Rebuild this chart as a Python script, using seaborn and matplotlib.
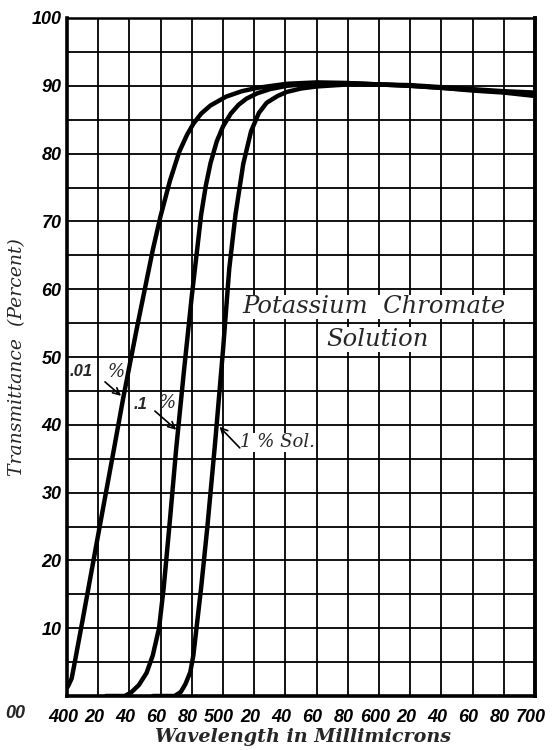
import matplotlib
matplotlib.use("Agg")
import matplotlib.pyplot as plt
import matplotlib.transforms as mtransforms
import seaborn as sns
import pandas as pd

# ---------------- data ----------------
wl_001 = [400, 401, 403, 405, 410, 420, 430, 436, 445, 455, 460, 466, 472,
          477, 481, 486, 492, 502, 512, 522, 541, 560, 580, 600, 620, 640,
          660, 680, 700]
tr_001 = [1.2, 1.6, 2.6, 5.0, 11.2, 23.8, 36.3, 43.9, 54.5, 65.8, 70.8, 76.0,
          80.3, 82.8, 84.4, 85.9, 87.1, 88.4, 89.2, 89.7, 90.3, 90.5, 90.4,
          90.2, 90.0, 89.7, 89.3, 89.0, 88.5]

wl_01 = [425, 437, 441, 446, 451, 455, 459, 462, 466, 470, 475, 480, 483, 486,
         489, 492, 496, 500, 505, 510, 515, 522, 530, 541, 560, 580, 600, 620,
         640, 660, 680, 700]
tr_01 = [0.0, 0.0, 0.5, 1.6, 3.4, 6.0, 10.0, 16.0, 26.0, 36.5, 48.0, 59.0,
         65.0, 71.0, 75.3, 78.6, 81.8, 84.0, 85.9, 87.2, 88.1, 88.9, 89.5,
         90.0, 90.4, 90.4, 90.2, 90.0, 89.7, 89.4, 89.1, 88.8]

wl_1 = [455, 469, 473, 476, 479, 481, 483, 486, 490, 495, 500, 504, 508, 513,
        518, 523, 528, 535, 541, 550, 560, 580, 600, 620, 640, 660, 680, 700]
tr_1 = [0.0, 0.0, 0.6, 1.8, 3.5, 6.0, 10.0, 16.0, 25.0, 37.5, 51.0, 63.0,
        71.0, 78.5, 83.3, 86.0, 87.5, 88.5, 89.1, 89.6, 89.9, 90.2, 90.2,
        90.1, 89.8, 89.5, 89.2, 89.0]

series_names = [".01 %", ".1 %", "1 % Sol."]

x_ticks = list(range(400, 701, 20))
x_ticklabels = ["400", "20", "40", "60", "80", "500", "20", "40", "60", "80",
                "600", "20", "40", "60", "80", "700"]
y_ticks = list(range(10, 101, 10))
y_ticklabels = ["10", "20", "30", "40", "50", "60", "70", "80", "90", "100"]

# ---------------- figure ----------------
sns.set_theme(style="white")
plt.rcParams["font.family"] = ["DejaVu Serif", "DejaVu Sans"]

fig = plt.figure(figsize=(5.56, 7.5), dpi=100)
ax = fig.add_axes([67 / 556, 1 - 696 / 750, 468 / 556, 678 / 750])

df = pd.concat([
    pd.DataFrame({"wl": wl_001, "T": tr_001, "conc": series_names[0]}),
    pd.DataFrame({"wl": wl_01, "T": tr_01, "conc": series_names[1]}),
    pd.DataFrame({"wl": wl_1, "T": tr_1, "conc": series_names[2]}),
])
for name in series_names:
    sns.lineplot(data=df[df["conc"] == name], x="wl", y="T", ax=ax,
                 color="black", linewidth=3.2, sort=False, estimator=None,
                 legend=False, zorder=5)

ax.set_xlim(400, 700)
ax.set_ylim(0, 100)
ax.grid(which="both", color="black", linewidth=1.3)
ax.tick_params(which="both", length=0)
ax.tick_params(axis="x", pad=9)
ax.tick_params(axis="y", pad=4)

tick_font = dict(family="Liberation Sans", fontstyle="italic",
                 fontweight="bold", fontsize=13, color="black")
ax.set_xticks(x_ticks)
ax.set_xticklabels(x_ticklabels, **tick_font)
ax.set_yticks(y_ticks)
ax.set_yticklabels(y_ticklabels, **tick_font)
ax.set_yticks(list(range(5, 100, 10)), minor=True)

shift = mtransforms.ScaledTranslation(-4 / 100, 0, fig.dpi_scale_trans)
for lab in ax.get_xticklabels():
    lab.set_transform(lab.get_transform() + shift)

for side, lw in (("left", 2.6), ("bottom", 2.6), ("right", 2.8), ("top", 1.8)):
    ax.spines[side].set_visible(True)
    ax.spines[side].set_color("black")
    ax.spines[side].set_linewidth(lw)

ax.set_xlabel("")
ax.set_ylabel("")
fig.text(303 / 556, 1 - 737 / 750, "Wavelength in Millimicrons",
         ha="center", va="center", fontsize=13.8, fontstyle="italic",
         fontweight="bold", family="DejaVu Serif")
fig.text(17 / 556, 1 - 357 / 750, "Transmittance  (Percent)", rotation=90,
         ha="center", va="center", fontsize=13.5, fontstyle="italic",
         family="DejaVu Serif")
fig.text(25 / 556, 1 - 713 / 750, "00", ha="right", va="center",
         fontsize=13, fontstyle="italic", fontweight="bold",
         family="Liberation Sans")

# title text inside plot
ax.text(597, 57.4, "Potassium  Chromate", ha="center", va="center",
        fontsize=17.5, fontstyle="italic", family="DejaVu Serif",
        bbox=dict(facecolor="white", edgecolor="none", pad=0.5), zorder=6)
ax.text(599, 52.6, "Solution", ha="center", va="center",
        fontsize=17.5, fontstyle="italic", family="DejaVu Serif",
        bbox=dict(facecolor="white", edgecolor="none", pad=0.5), zorder=6)

# series annotations
ax.text(402, 47.8, ".01", ha="left", va="center", fontsize=12,
        fontstyle="italic", fontweight="bold", family="Liberation Sans",
        bbox=dict(facecolor="white", edgecolor="none", pad=0.3), zorder=6)
ax.text(426, 47.8, "%", ha="left", va="center", fontsize=13,
        fontstyle="italic", family="DejaVu Serif", zorder=6)
ax.annotate("", xy=(436, 44.0), xytext=(423, 46.6),
            arrowprops=dict(arrowstyle="->", lw=1.2, color="black"), zorder=7)

ax.text(443, 43.0, ".1", ha="left", va="center", fontsize=12,
        fontstyle="italic", fontweight="bold", family="Liberation Sans",
        bbox=dict(facecolor="white", edgecolor="none", pad=0.3), zorder=6)
ax.text(459, 43.2, "%", ha="left", va="center", fontsize=13,
        fontstyle="italic", family="DejaVu Serif", zorder=6)
ax.annotate("", xy=(471.4, 39.0), xytext=(455, 42.3),
            arrowprops=dict(arrowstyle="->", lw=1.2, color="black"), zorder=7)

ax.text(511, 37.4, "1 % Sol.", ha="left", va="center", fontsize=13,
        fontstyle="italic", family="DejaVu Serif",
        bbox=dict(facecolor="white", edgecolor="none", pad=0.3), zorder=6)
ax.annotate("", xy=(496.5, 40.0), xytext=(512, 36.3),
            arrowprops=dict(arrowstyle="->", lw=1.2, color="black"), zorder=7)

fig.savefig("out.png", dpi=100)
